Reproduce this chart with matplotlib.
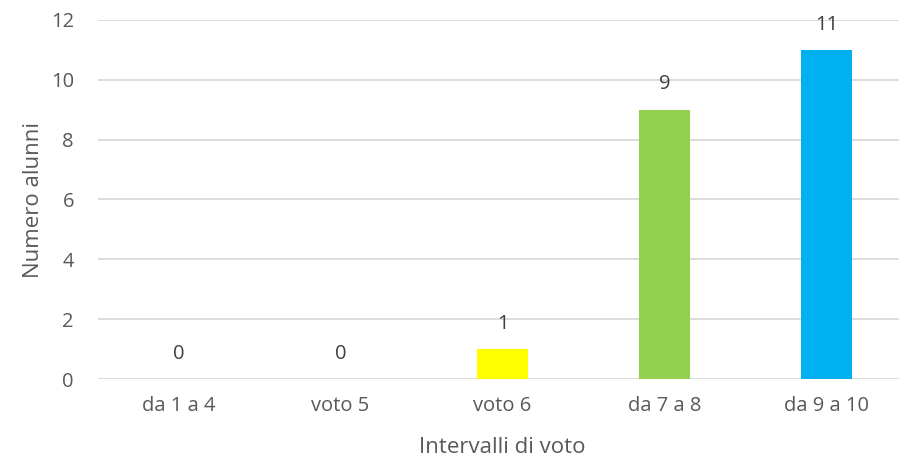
import matplotlib.pyplot as plt

categories = ["da 1 a 4", "voto 5", "voto 6", "da 7 a 8", "da 9 a 10"]
counts = [0, 0, 1, 9, 11]
colors = ["#FFFF00", "#FFFF00", "#FFFF00", "#92D050", "#00B0F0"]

plt.rcParams['font.family'] = ['Open Sans', 'DejaVu Sans']
text_color = "#595959"

fig = plt.figure(figsize=(8.99, 4.61), dpi=100)
W, H = 899, 461
# plot area in pixels: x 97.5..907.5, y 20..379
ax = fig.add_axes([97.5 / W, (H - 379) / H, 810 / W, 359 / H])

x = list(range(len(categories)))
bars = ax.bar(x, counts, width=0.315, color=colors, zorder=3)
ax.bar_label(bars, padding=11, fontsize=14.5, color="#404040")

ax.set_xlim(-0.5, len(categories) - 0.5)
ax.set_ylim(0, 12)
ax.set_yticks(range(0, 13, 2))
ax.set_xticks(x, categories)
ax.grid(axis="y", color="#D9D9D9", linewidth=1.3, zorder=0)
for s in ax.spines.values():
    s.set_visible(False)
ax.tick_params(axis="both", length=0, labelsize=14.5, colors=text_color)
ax.tick_params(axis="y", pad=17)
ax.tick_params(axis="x", pad=12)

ax.set_ylabel("Numero alunni", fontsize=16, color=text_color, labelpad=5)
ax.set_xlabel("Intervalli di voto", fontsize=16, color=text_color, labelpad=15)

fig.savefig("out.png", dpi=100)
